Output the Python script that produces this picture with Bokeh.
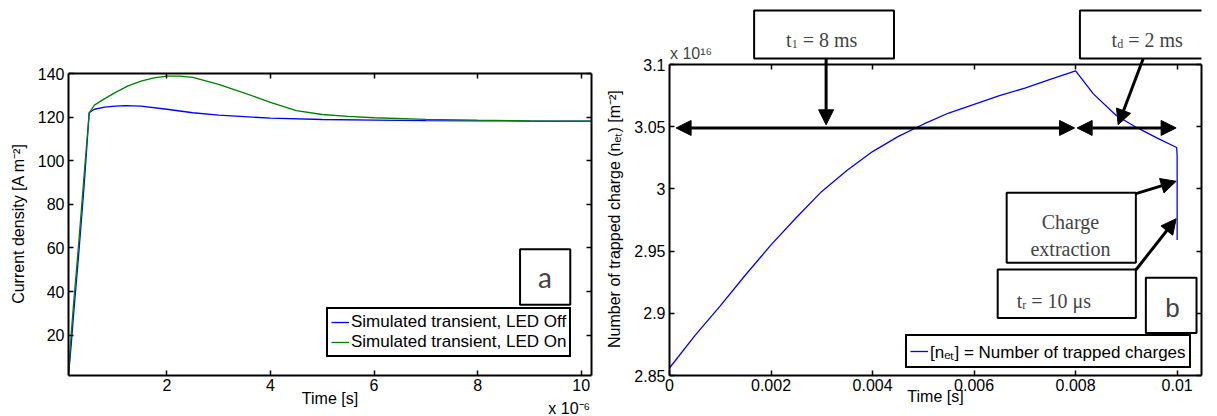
from bokeh.plotting import figure
from bokeh.layouts import row
from bokeh.models import (Range1d, FixedTicker, LinearAxis, Legend, LegendItem,
                          BoxAnnotation, Label, Arrow, NormalHead)
from bokeh.embed import file_html
from bokeh.resources import INLINE

# ---------------- Panel a data (time in units of 1e-6 s, current density A m^-2)
t_off_us = [0.1, 0.15, 0.2, 0.3, 0.4, 0.5, 0.6, 0.8, 1.0, 1.2, 1.5, 2.0, 2.5, 3.0,
            3.5, 4.0, 5.0, 6.0, 7.0, 8.0, 9.0, 10.2]
j_off = [1.5, 15, 30, 58, 88, 122, 123.6, 124.6, 125.0, 125.3, 125.0, 123.6, 122.0,
         120.9, 120.2, 119.5, 118.9, 118.6, 118.4, 118.3, 118.2, 118.1]
t_on_us = [0.1, 0.15, 0.2, 0.3, 0.4, 0.5, 0.6, 0.8, 1.0, 1.25, 1.5, 1.75, 2.0, 2.25,
           2.5, 3.0, 3.5, 4.0, 4.5, 5.0, 5.5, 6.0, 7.0, 8.0, 9.0, 10.2]
j_on = [1.5, 20, 35, 63, 93, 122, 125.5, 128.5, 131.2, 134.3, 136.5, 138.0, 138.8,
        138.8, 138.2, 135.0, 131.0, 126.8, 123.0, 121.2, 120.3, 119.7, 119.0, 118.6,
        118.3, 118.1]
a_xticks = [2, 4, 6, 8, 10]
a_yticks = [20, 40, 60, 80, 100, 120, 140]
a_series = ["Simulated transient, LED Off", "Simulated transient, LED On"]
a_xexp = "x 10\u207b\u2076"

# ---------------- Panel b data (time s, trapped charge in units of 1e16 m^-2)
t_b = [0, 0.0005, 0.001, 0.0015, 0.002, 0.0025, 0.003, 0.0035, 0.004, 0.0045, 0.005,
       0.0055, 0.006, 0.0065, 0.007, 0.0075, 0.008, 0.00835, 0.0088, 0.0092, 0.0096,
       0.00999, 0.01, 0.01]
n_b = [2.856, 2.882, 2.906, 2.931, 2.955, 2.977, 2.998, 3.015, 3.030, 3.042, 3.052,
       3.061, 3.068, 3.075, 3.081, 3.088, 3.0948, 3.0764, 3.059, 3.0494, 3.041,
       3.0333, 3.027, 2.959]
b_xticks = [0, 0.002, 0.004, 0.006, 0.008, 0.01]
b_xlabels = ["0", "0.002", "0.004", "0.006", "0.008", "0.01"]
b_yticks = [2.85, 2.9, 2.95, 3.0, 3.05, 3.1]
b_ylabels = ["2.85", "2.9", "2.95", "3", "3.05", "3.1"]
b_series = "[n\u2091\u209c] = Number of trapped charges"
b_yexp = "x 10\u00b9\u2076"

SANS = "Liberation Sans"
SERIF = "Liberation Serif"
FS = "16px"
NB = "\u00a0"

# Both frames run from the canvas top (0 px) to 375 px; the visible plot boxes are
# drawn by axes bounded to the data limits below.
FRAME_H = 375
A_XR = (0.1, 10.2)
A_YMIN, A_YMAX, A_TOP_PX = 1.5, 140, 73
B_XR = (0, 0.01048)
B_YMIN, B_YMAX, B_TOP_PX = 2.85, 3.1, 64


def mirror_axis(ticks, **kw):
    return LinearAxis(ticker=FixedTicker(ticks=ticks), major_label_text_font_size="0px",
                      minor_tick_line_color=None, axis_line_color="black",
                      axis_line_width=2, major_tick_line_width=1.5,
                      major_label_standoff=0, **kw)


def make_panel(width, xr, ymin, ymax, top_px, xt, yt, xlabel, ylabel, border_left,
               border_right, xover=None, yover=None, pad=0):
    px_y = (FRAME_H - top_px) / (ymax - ymin)
    p = figure(width=width, height=415, output_backend="svg", toolbar_location=None,
               x_range=Range1d(*xr), y_range=Range1d(ymin, ymax + top_px / px_y),
               min_border_left=border_left, min_border_right=border_right,
               min_border_top=0, min_border_bottom=40)
    p.outline_line_color = None
    p.xgrid.visible = False
    p.ygrid.visible = False
    p.background_fill_color = "white"
    xa, ya = p.xaxis[0], p.yaxis[0]
    for ax in (xa, ya):
        ax.major_tick_in = 5
        ax.major_tick_out = 0
        ax.minor_tick_line_color = None
        ax.axis_line_color = "black"
        ax.axis_line_width = 2
        ax.major_tick_line_width = 1.5
        ax.major_label_text_font = SANS
        ax.major_label_text_font_size = FS
        ax.major_label_text_color = "black"
        ax.axis_label_text_font = SANS
        ax.axis_label_text_font_size = FS
        ax.axis_label_text_font_style = "normal"
        ax.axis_label_text_color = "black"
    xa.ticker = FixedTicker(ticks=xt)
    ya.ticker = FixedTicker(ticks=yt)
    ya.bounds = (ymin, ymax)
    xa.axis_label = xlabel
    # trailing no-break spaces keep the rotated title centred on the plot box
    ya.axis_label = ylabel + NB * pad
    xa.major_label_standoff = 3
    xa.axis_label_standoff = -6
    ya.major_label_standoff = 4
    ya.axis_label_standoff = 8
    if xover:
        xa.major_label_overrides = xover
    if yover:
        ya.major_label_overrides = yover
    p.add_layout(mirror_axis(yt, major_tick_in=5, major_tick_out=0,
                             bounds=(ymin, ymax)), "right")
    # top edge of the box, ticks pointing down into the plot
    p.add_layout(mirror_axis(xt, major_tick_in=0, major_tick_out=5,
                             fixed_location=ymax), "below")
    return p, xa, ya


def box(p, l, r, t, b):
    p.add_layout(BoxAnnotation(left=l, right=r, top=t, bottom=b, fill_color="white",
                               fill_alpha=1, line_color="black", line_width=2,
                               line_alpha=1))


def head():
    return NormalHead(size=15, fill_color="black", line_color="black")


def arrow(p, x0, y0, x1, y1, double=False):
    kw = dict(end=head(), x_start=x0, y_start=y0, x_end=x1, y_end=y1,
              line_width=3, line_color="black")
    if double:
        kw["start"] = head()
    p.add_layout(Arrow(**kw))


def sub_text(p, x, y, sub, rest, sub_w):
    p.add_layout(Label(x=x, y=y, text="t", text_font=SERIF, text_font_size="20px",
                       text_baseline="alphabetic", text_align="left"))
    p.add_layout(Label(x=x, y=y, x_offset=5.6, y_offset=-4, text=sub, text_font=SERIF,
                       text_font_size="12px", text_baseline="alphabetic", text_align="left"))
    p.add_layout(Label(x=x, y=y, x_offset=5.6 + sub_w, text=NB + rest, text_font=SERIF,
                       text_font_size="20px", text_baseline="alphabetic", text_align="left"))


def legend(items, loc, h):
    return Legend(items=items, location=loc, border_line_color="black",
                  border_line_width=2, border_line_alpha=1,
                  background_fill_color="white", background_fill_alpha=1,
                  label_text_font=SANS, label_text_font_size="17px",
                  label_text_color="black", padding=3, spacing=0, margin=0,
                  glyph_width=18, glyph_height=h, label_height=h, label_standoff=2)


# ---------------- Panel a
pa, xa_a, ya_a = make_panel(600, A_XR, A_YMIN, A_YMAX, A_TOP_PX, a_xticks, a_yticks,
                            None, "Current density [A m\u207b\u00b2]", 68, 9, pad=16)
# second, tick-less bottom axis: carries the "x 10^-6" multiplier and the axis title
exp_pos = 9.77
exp_axis = LinearAxis(ticker=FixedTicker(ticks=[exp_pos]),
                      major_label_overrides={exp_pos: a_xexp},
                      major_tick_line_color=None, minor_tick_line_color=None,
                      axis_line_color=None, major_label_standoff=0,
                      major_label_text_font=SANS, major_label_text_font_size=FS,
                      major_label_text_color="black",
                      axis_label="Time [s]", axis_label_standoff=-30,
                      axis_label_text_font=SANS, axis_label_text_font_size=FS,
                      axis_label_text_font_style="normal", axis_label_text_color="black")
pa.add_layout(exp_axis, "below")
r_off = pa.line(t_off_us, j_off, line_color="#0000ff", line_width=1.3)
r_on = pa.line(t_on_us, j_on, line_color="#008000", line_width=1.3)
box(pa, 8.82, 9.79, 59.4, 34.0)
pa.add_layout(Label(x=9.3, y=46.7, text="a", text_font="Lato", text_font_size="28px",
                    text_align="center", text_baseline="middle"))
pa.add_layout(legend([LegendItem(label=a_series[0], renderers=[r_off]),
                      LegendItem(label=a_series[1], renderers=[r_on])], (258, 18), 20))

# ---------------- Panel b
pb, xa_b, ya_b = make_panel(616, B_XR, B_YMIN, B_YMAX, B_TOP_PX, b_xticks, b_yticks,
                            "Time [s]",
                            "Number of trapped charge (n\u2091\u209c) [m\u207b\u00b2]",
                            69, 15, xover=dict(zip(b_xticks, b_xlabels)),
                            yover=dict(zip(b_yticks, b_ylabels)), pad=14)
r_n = pb.line(t_b, n_b, line_color="#0000ff", line_width=1.3)

# boxes above the plot box
box(pb, 0.001667, 0.004423, 3.1435, 3.1048)
box(pb, 0.008085, 0.0112, 3.1435, 3.1048)
sub_text(pb, 0.002297, 3.1194, "1", "= 8 ms", 6)
sub_text(pb, 0.008709, 3.1194, "d", "= 2 ms", 6)
pb.add_layout(Label(x=0.00001, y=3.1089, text=b_yexp, text_font=SANS,
                    text_font_size=FS, text_align="left", text_baseline="middle"))

# boxes inside the plot box
box(pb, 0.006642, 0.009187, 2.997, 2.9406)
box(pb, 0.006465, 0.009187, 2.9352, 2.8962)
box(pb, 0.009384, 0.010382, 2.9285, 2.8841)
sub_text(pb, 0.006839, 2.9102, "r", "= 10 \u03bcs", 4)
pb.add_layout(Label(x=0.007898, y=2.9736, text="Charge", text_font=SERIF,
                    text_font_size="20px", text_align="center", text_baseline="alphabetic"))
pb.add_layout(Label(x=0.007898, y=2.9514, text="extraction", text_font=SERIF,
                    text_font_size="20px", text_align="center", text_baseline="alphabetic"))
pb.add_layout(Label(x=0.009909, y=2.9043, text="b", text_font=SANS, text_font_size="26px",
                    text_align="center", text_baseline="middle"))

arrow(pb, 0.003085, 3.1048, 0.003085, 3.0515)
arrow(pb, 0.009331, 3.1046, 0.008839, 3.0516)
arrow(pb, 0.00013, 3.049, 0.00798, 3.049, double=True)
arrow(pb, 0.00803, 3.049, 0.00998, 3.049, double=True)
arrow(pb, 0.009190, 2.9962, 0.00998, 3.0061)
arrow(pb, 0.009190, 2.9350, 0.00998, 2.976)

pb.add_layout(legend([LegendItem(label=b_series, renderers=[r_n])], (236, 7), 24))

layout = row(pa, pb)
open("out.html", "w").write(file_html(layout, INLINE))
